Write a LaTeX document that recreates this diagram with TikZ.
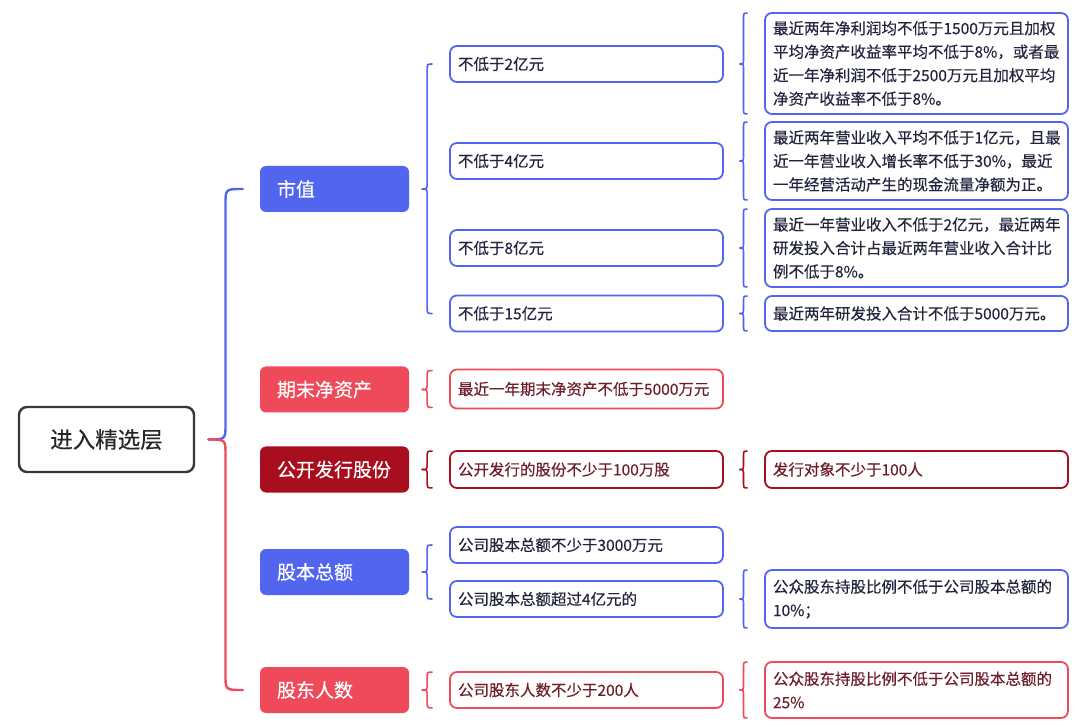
\documentclass[tikz,border=0pt]{standalone}
\usepackage{fontspec}
\setmainfont{Noto Sans CJK SC}[FakeBold=0.3]
\usetikzlibrary{calc}
\definecolor{cblue}{HTML}{5165EE}
\definecolor{cred}{HTML}{EE4A5A}
\definecolor{cdred}{HTML}{A80E1E}
\definecolor{croot}{HTML}{3B3731}
\definecolor{tblue}{HTML}{23253F}
\definecolor{tred}{HTML}{6E1F2A}
\tikzset{
  rootbox/.style={draw=croot, line width=2.4pt, rounded corners=8pt, minimum width=175pt, minimum height=65pt, inner sep=0pt, font=\fontsize{22.5}{26}\selectfont, text=black!85},
  catbox/.style={rounded corners=6pt, minimum height=46pt, text width=115pt, inner xsep=17pt, inner ysep=0pt, align=left, text=white, font=\fontsize{19}{22}\selectfont},
  leafL/.style={draw, rounded corners=7pt, line width=1.8pt, text width=257pt, inner xsep=8pt, inner ysep=0pt, align=left, font=\fontsize{15.5}{23.5}\selectfont},
  leafR/.style={draw, rounded corners=7pt, line width=1.8pt, text width=287pt, inner xsep=8pt, inner ysep=0pt, align=left, font=\fontsize{15.5}{23.5}\selectfont},
  bl/.style={draw=cblue, text=tblue},
  rd/.style={draw=cred, text=tred},
  dr/.style={draw=cdred, text=tred},
  bracel/.style={line width=1.6pt, line cap=round},
  mainbrace/.style={line width=2.4pt, line cap=round},
}
\newcommand\halfbrace[4]{\draw[#1] let \p1=#2, \p2=#3 in (\p2) .. controls ({(\x1+\x2)/2},\y2) .. ({(\x1+\x2)/2},{\y2-(#4)}) -- ({(\x1+\x2)/2},{\y1+(#4)}) .. controls ({(\x1+\x2)/2},\y1) .. (\p1);}
\newcommand\fullbrace[5]{\halfbrace{#1}{#2}{#3}{#5}\halfbrace{#1}{#2}{#4}{-#5}}
\begin{document}
\begin{tikzpicture}[x=1pt,y=-1pt]
\useasboundingbox[fill=white] (0,0) rectangle (1080,727);
% root
\node[rootbox] (root) at (106.5,439.5) {进入精选层};
% categories
\node[catbox, fill=cblue] (sz) at (334.5,189) {市值};
\node[catbox, fill=cred] (jzc) at (334.5,389.5) {期末净资产};
\node[catbox, fill=cdred] (gk) at (334.5,469.5) {公开发行股份};
\node[catbox, fill=cblue] (gb) at (334.5,572) {股本总额};
\node[catbox, fill=cred] (gd) at (334.5,690) {股东人数};
% left leaves
\node[leafL, bl, minimum height=36pt] (a1) at (586.5,64) {不低于2亿元};
\node[leafL, bl, minimum height=36pt] (a2) at (586.5,161) {不低于4亿元};
\node[leafL, bl, minimum height=36pt] (a3) at (586.5,248) {不低于8亿元};
\node[leafL, bl, minimum height=36pt] (a4) at (586.5,313.5) {不低于15亿元};
\node[leafL, rd, minimum height=39pt] (b1) at (586.5,389) {最近一年期末净资产不低于5000万元};
\node[leafL, dr, minimum height=37pt] (c1) at (586.5,469.5) {公开发行的股份不少于100万股};
\node[leafL, bl, minimum height=36pt] (d1) at (586.5,545) {公司股本总额不少于3000万元};
\node[leafL, bl, minimum height=36pt] (d2) at (586.5,599) {公司股本总额超过4亿元的};
\node[leafL, rd, minimum height=36pt] (e1) at (586.5,690) {公司股东人数不少于200人};
% right leaves
\node[leafR, bl, minimum height=101pt] (r1) at (916.5,63.5) {最近两年净利润均不低于1500万元且加权\\平均净资产收益率平均不低于8\%，或者最\\近一年净利润不低于2500万元且加权平均\\净资产收益率不低于8\%。};
\node[leafR, bl, minimum height=78pt] (r2) at (916.5,161) {最近两年营业收入平均不低于1亿元，且最\\近一年营业收入增长率不低于30\%，最近\\一年经营活动产生的现金流量净额为正。};
\node[leafR, bl, minimum height=78pt] (r3) at (916.5,248) {最近一年营业收入不低于2亿元，最近两年\\研发投入合计占最近两年营业收入合计比\\例不低于8\%。};
\node[leafR, bl, minimum height=35pt] (r4) at (916.5,313.5) {最近两年研发投入合计不低于5000万元。};
\node[leafR, dr, minimum height=37pt] (c2) at (916.5,469.5) {发行对象不少于100人};
\node[leafR, bl, minimum height=58pt] (d3) at (916.5,599) {公众股东持股比例不低于公司股本总额的\\10\%；};
\node[leafR, rd, minimum height=56pt] (e2) at (916.5,690) {公众股东持股比例不低于公司股本总额的\\25\%};
% main brace
\halfbrace{mainbrace, cblue}{($(root.east)+(13,0)$)}{($(sz.west)+(-17,0)$)}{15pt}
\halfbrace{mainbrace, cred}{($(root.east)+(13,0)$)}{($(gd.west)+(-17,0)$)}{-15pt}
% category braces
\fullbrace{bracel, cblue}{($(sz.east)+(13,0)$)}{($(a1.west)+(-17,0)$)}{($(a4.west)+(-17,0)$)}{7pt}
\fullbrace{bracel, cred}{($(jzc.east)+(13,0)$)}{($(b1.north west)+(-17,2)$)}{($(b1.south west)+(-17,-2)$)}{7pt}
\fullbrace{bracel, cdred}{($(gk.east)+(13,0)$)}{($(c1.north west)+(-17,1)$)}{($(c1.south west)+(-17,-1)$)}{7pt}
\fullbrace{bracel, cblue}{($(gb.east)+(13,0)$)}{($(d1.west)+(-17,0)$)}{($(d2.west)+(-17,0)$)}{7pt}
\fullbrace{bracel, cred}{($(gd.east)+(13,0)$)}{($(e1.north west)+(-17,1)$)}{($(e1.south west)+(-17,-1)$)}{7pt}
% leaf braces
\fullbrace{bracel, cblue}{($(a1.east)+(16,0)$)}{($(r1.north west)+(-17,1)$)}{($(r1.south west)+(-17,-1)$)}{7pt}
\fullbrace{bracel, cblue}{($(a2.east)+(16,0)$)}{($(r2.north west)+(-17,1)$)}{($(r2.south west)+(-17,-1)$)}{7pt}
\fullbrace{bracel, cblue}{($(a3.east)+(16,0)$)}{($(r3.north west)+(-17,1)$)}{($(r3.south west)+(-17,-1)$)}{7pt}
\fullbrace{bracel, cblue}{($(a4.east)+(16,0)$)}{($(r4.north west)+(-17,1)$)}{($(r4.south west)+(-17,-1)$)}{7pt}
\fullbrace{bracel, cdred}{($(c1.east)+(16,0)$)}{($(c2.north west)+(-17,1)$)}{($(c2.south west)+(-17,-1)$)}{7pt}
\fullbrace{bracel, cblue}{($(d2.east)+(16,0)$)}{($(d3.north west)+(-17,1)$)}{($(d3.south west)+(-17,-1)$)}{7pt}
\fullbrace{bracel, cred}{($(e1.east)+(16,0)$)}{($(e2.north west)+(-17,1)$)}{($(e2.south west)+(-17,-1)$)}{7pt}
\end{tikzpicture}
\end{document}
